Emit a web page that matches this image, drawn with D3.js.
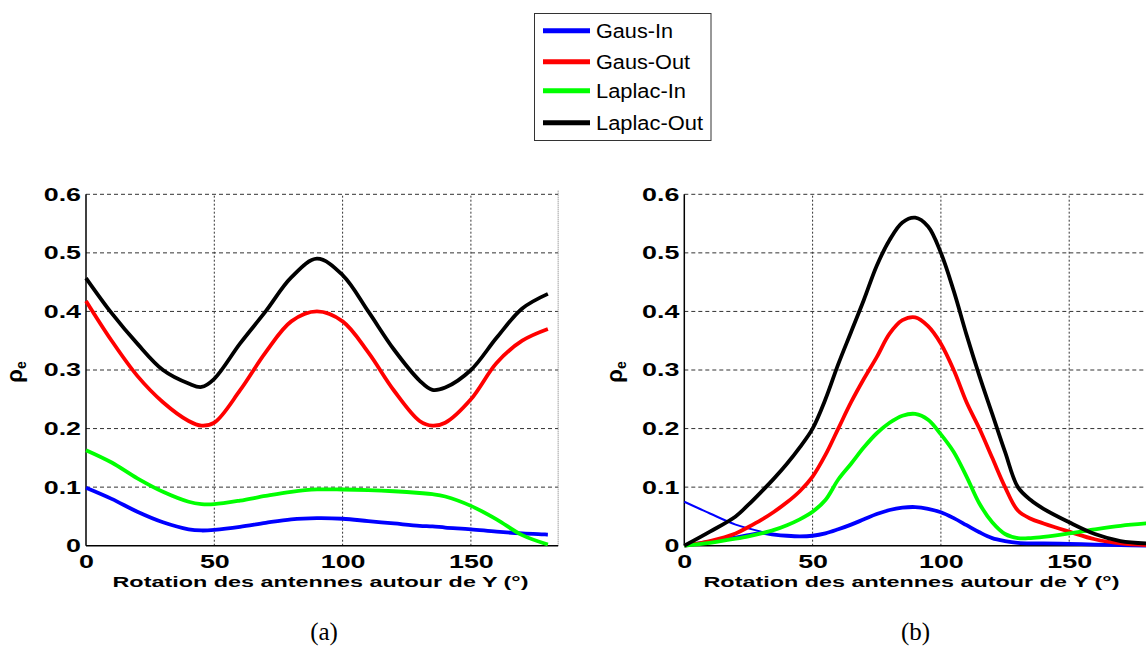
<!DOCTYPE html>
<html>
<head>
<meta charset="utf-8">
<script src="https://cdn.jsdelivr.net/npm/d3@7/dist/d3.min.js"></script>
<style>
  html, body { margin: 0; padding: 0; background: #fff; }
  svg { display: block; }
</style>
</head>
<body>
<svg id="chart" width="1146" height="646"></svg>
<script>
// ---------------- DATA ----------------
const seriesNames = ["Gaus-In", "Gaus-Out", "Laplac-In", "Laplac-Out"];
const seriesColors = ["#0000ff", "#ff0000", "#00ff00", "#000000"];
const yTicks = [0, 0.1, 0.2, 0.3, 0.4, 0.5, 0.6];
const xTicks = [0, 50, 100, 150];
const xLabel = "Rotation des antennes autour de Y (°)";
const panelLabels = ["(a)", "(b)"];

// Panel (a)
const anglesA = [0,10,20,30,40,45,50,60,70,80,90,100,110,120,130,135,140,150,160,170,180];
const gausInA   = [0.099,0.080,0.058,0.040,0.028,0.026,0.027,0.032,0.039,0.045,0.047,0.046,0.042,0.038,0.034,0.033,0.031,0.028,0.024,0.021,0.019];
const gausOutA  = [0.418,0.350,0.290,0.245,0.213,0.205,0.210,0.265,0.330,0.383,0.400,0.383,0.330,0.265,0.213,0.205,0.210,0.250,0.312,0.350,0.370];
const laplacInA = [0.163,0.142,0.115,0.092,0.075,0.071,0.071,0.077,0.085,0.092,0.096,0.096,0.095,0.093,0.090,0.088,0.084,0.068,0.045,0.018,0.002];
const laplacOutA= [0.457,0.397,0.345,0.300,0.277,0.271,0.285,0.345,0.400,0.458,0.490,0.462,0.400,0.335,0.282,0.266,0.270,0.300,0.355,0.405,0.430];

// Panel (b)
const anglesB = [0,10,20,25,30,35,40,45,50,55,60,65,70,75,80,85,90,95,100,105,110,115,120,125,130,135,140,150,160,170,180];
const gausInB   = [0,0.007,0.014,0.018,0.022,0.019,0.017,0.016,0.017,0.021,0.028,0.036,0.045,0.054,0.061,0.065,0.066,0.063,0.057,0.047,0.035,0.023,0.013,0.008,0.005,0.004,0.004,0.003,0.002,0.001,0.000];
const gausOutB  = [0,0.008,0.021,0.032,0.044,0.058,0.074,0.093,0.118,0.155,0.200,0.245,0.285,0.322,0.362,0.385,0.390,0.375,0.345,0.300,0.245,0.200,0.150,0.100,0.060,0.046,0.038,0.024,0.011,0.004,0.001];
const laplacInB = [0,0.005,0.012,0.016,0.021,0.027,0.035,0.045,0.058,0.078,0.113,0.140,0.168,0.192,0.210,0.222,0.225,0.215,0.190,0.160,0.118,0.072,0.040,0.020,0.013,0.013,0.015,0.021,0.028,0.034,0.038];
const laplacOutB= [0,0.024,0.050,0.070,0.092,0.115,0.140,0.168,0.200,0.250,0.310,0.365,0.420,0.478,0.522,0.552,0.560,0.545,0.500,0.435,0.360,0.290,0.225,0.160,0.100,0.078,0.063,0.040,0.020,0.008,0.004];
// secondary short Gaus-In branch in (b)
const anglesB2 = [0,10,20,30];
const gausInB2 = [0.075,0.055,0.036,0.024];

// ---------------- LAYOUT ----------------
const svg = d3.select("#chart");
const pxPerDeg = 2.566;
const xMax = 184;
const yTop = 194.3, yBot = 545.7;
const y = d3.scaleLinear().domain([0, 0.6]).range([yBot, yTop]);

const panels = [
  { x0: 86, angles: anglesA, series: [gausInA, gausOutA, laplacInA, laplacOutA], labelX: 320.5, ylabX: 22, panelLabelX: 324 },
  { x0: 684.3, angles: anglesB, series: [gausInB, gausOutB, laplacInB, laplacOutB], labelX: 911.5, ylabX: 622, panelLabelX: 915.5,
    extra: [{ angles: anglesB2, values: gausInB2, color: seriesColors[0], width: 2 }] }
];

function stretch(sel, k) {
  sel.each(function() {
    const len = this.getComputedTextLength();
    d3.select(this).attr("textLength", len * k).attr("lengthAdjust", "spacingAndGlyphs");
  });
}

panels.forEach((p, pi) => {
  const x = d3.scaleLinear().domain([0, xMax]).range([p.x0, p.x0 + xMax * pxPerDeg]);
  const g = svg.append("g");

  // grid horizontal (dashed)
  g.append("g").selectAll("line").data(yTicks.filter(d => d > 0)).join("line")
    .attr("x1", x(0)).attr("x2", x(xMax))
    .attr("y1", d => y(d)).attr("y2", d => y(d))
    .attr("stroke", "#333").attr("stroke-width", 1).attr("stroke-dasharray", "4,3");
  // grid vertical (dotted)
  g.append("g").selectAll("line").data(xTicks.filter(d => d > 0)).join("line")
    .attr("x1", d => x(d)).attr("x2", d => x(d))
    .attr("y1", y(0)).attr("y2", y(0.6))
    .attr("stroke", "#333").attr("stroke-width", 1).attr("stroke-dasharray", "2,2");
  // right border (dotted)
  g.append("line").attr("x1", x(xMax)).attr("x2", x(xMax)).attr("y1", y(0)).attr("y2", y(0.6) - 4)
    .attr("stroke", "#777").attr("stroke-width", 1).attr("stroke-dasharray", "1,1");

  // axes
  const ya = g.append("g").attr("transform", `translate(${x(0)},0)`)
    .call(d3.axisLeft(y).tickValues(yTicks).tickSize(0).tickPadding(5)
      .tickFormat(d => d === 0 ? "0" : d3.format(".1f")(d)));
  const xa = g.append("g").attr("transform", `translate(0,${y(0)})`)
    .call(d3.axisBottom(x).tickValues(xTicks).tickSize(0).tickPadding(9.5).tickFormat(d3.format("d")));
  [ya, xa].forEach(a => {
    a.select(".domain").attr("stroke", "#000").attr("stroke-width", 1.5);
    a.selectAll("text").attr("font-family", "'Liberation Sans', Arial, sans-serif")
      .attr("font-size", 18.5).attr("font-weight", "bold").attr("fill", "#000");
    stretch(a.selectAll("text"), 1.45);
  });
  ya.select(".domain").attr("d", `M0,${y(0.6)}V${y(0)}`);
  xa.select(".domain").attr("d", `M${x(0)},0H${x(xMax)}`);

  // lines
  const clipId = "clip" + pi;
  svg.append("clipPath").attr("id", clipId).append("rect")
    .attr("x", x(0) - 3).attr("y", y(0.6) - 5).attr("width", xMax * pxPerDeg + 6).attr("height", yBot - yTop + 8);
  const lg = g.append("g").attr("clip-path", `url(#${clipId})`);
  const line = d3.line().x(d => x(d[0])).y(d => y(d[1])).curve(d3.curveCatmullRom.alpha(0.5));
  (p.extra || []).forEach(e => {
    lg.append("path").datum(e.angles.map((a, i) => [a, e.values[i]]))
      .attr("d", line).attr("fill", "none").attr("stroke", e.color).attr("stroke-width", e.width);
  });
  p.series.forEach((vals, si) => {
    lg.append("path").datum(p.angles.map((a, i) => [a, vals[i]]))
      .attr("d", line).attr("fill", "none").attr("stroke", seriesColors[si])
      .attr("stroke-width", 3.8).attr("stroke-linejoin", "round");
  });

  // x label
  g.append("text").attr("x", p.labelX).attr("y", 586.5).attr("text-anchor", "middle")
    .attr("font-family", "'Liberation Sans', Arial, sans-serif").attr("font-size", 14.5).attr("font-weight", "bold")
    .attr("textLength", 416).attr("lengthAdjust", "spacingAndGlyphs").text(xLabel);

  // y label rho_e
  const yl = g.append("text").attr("transform", `translate(${p.ylabX},372) rotate(-90)`)
    .attr("text-anchor", "middle").attr("font-family", "'Liberation Sans', Arial, sans-serif")
    .attr("font-weight", "bold");
  yl.append("tspan").attr("font-size", 22).text("ρ");
  yl.append("tspan").attr("font-size", 14).attr("dy", 4).text("e");

  // panel label
  svg.append("text").attr("x", p.panelLabelX).attr("y", 640).attr("text-anchor", "middle")
    .attr("font-family", "'Liberation Serif', 'Times New Roman', serif").attr("font-size", 25)
    .text(panelLabels[pi]);
});

// ---------------- LEGEND ----------------
const leg = svg.append("g");
leg.append("rect").attr("x", 534.5).attr("y", 13.5).attr("width", 176.5).attr("height", 127)
  .attr("fill", "#fff").attr("stroke", "#333").attr("stroke-width", 1);
const legY = [30.7, 61.7, 90.7, 122.7];
const legW = [77, 94, 90, 107];
seriesNames.forEach((n, i) => {
  leg.append("line").attr("x1", 543).attr("x2", 590).attr("y1", legY[i]).attr("y2", legY[i])
    .attr("stroke", seriesColors[i]).attr("stroke-width", 5);
  leg.append("text").attr("x", 596).attr("y", legY[i] + 7.5)
    .attr("font-family", "'Liberation Sans', Arial, sans-serif").attr("font-size", 20)
    .attr("textLength", legW[i]).attr("lengthAdjust", "spacingAndGlyphs").text(n);
});
</script>
</body>
</html>
